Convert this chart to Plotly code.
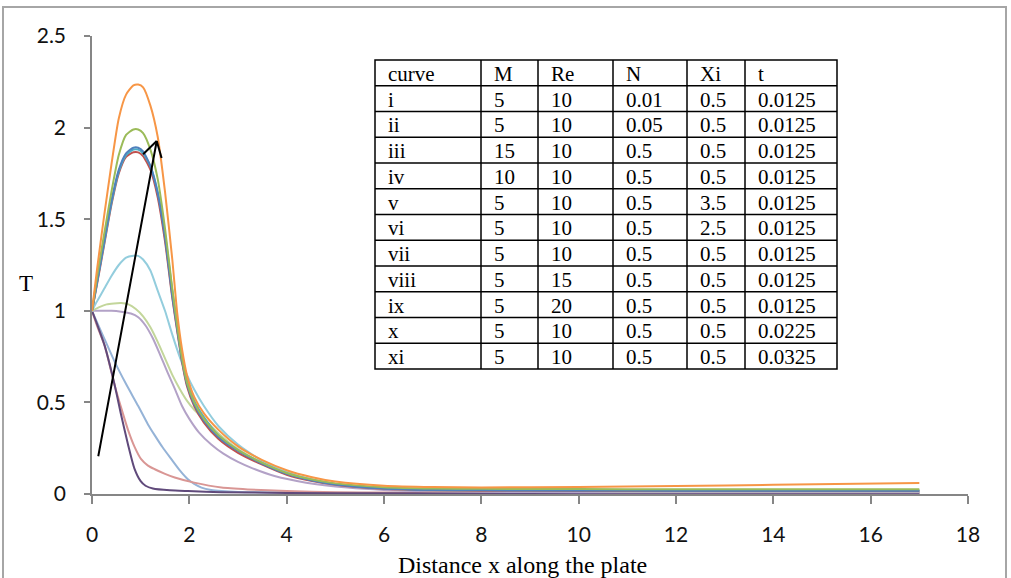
import plotly.graph_objects as go

# ---------------- data ----------------
x_orange = [0, 0.1, 0.25, 0.4, 0.55, 0.7, 0.85, 0.95, 1.05, 1.2, 1.35, 1.5, 1.65, 1.75, 1.85, 1.95, 2.1, 2.3, 2.6, 3.0, 3.5, 4.0, 4.5, 5, 6, 7, 8, 10, 12, 14, 17]
y_orange = [1.0, 1.22, 1.52, 1.80, 2.05, 2.18, 2.23, 2.235, 2.22, 2.12, 1.95, 1.65, 1.28, 0.99, 0.79, 0.65, 0.53, 0.44, 0.35, 0.26, 0.185, 0.13, 0.093, 0.068, 0.045, 0.038, 0.036, 0.038, 0.043, 0.05, 0.06]

x_green = [0, 0.1, 0.25, 0.4, 0.55, 0.7, 0.85, 0.95, 1.05, 1.2, 1.35, 1.5, 1.65, 1.75, 1.85, 1.95, 2.1, 2.3, 2.6, 3.0, 3.5, 4.0, 4.5, 5, 6, 7, 8, 10, 12, 14, 17]
y_green = [1.0, 1.18, 1.42, 1.65, 1.85, 1.96, 1.99, 1.99, 1.97, 1.88, 1.72, 1.45, 1.12, 0.92, 0.74, 0.61, 0.50, 0.41, 0.32, 0.24, 0.17, 0.115, 0.08, 0.058, 0.037, 0.03, 0.028, 0.027, 0.026, 0.026, 0.026]

x_blue = [0, 0.1, 0.25, 0.4, 0.55, 0.7, 0.85, 0.95, 1.05, 1.2, 1.35, 1.5, 1.65, 1.75, 1.85, 1.95, 2.1, 2.3, 2.6, 3.0, 3.5, 4.0, 4.5, 5, 6, 7, 8, 10, 12, 14, 17]
y_blue = [1.0, 1.15, 1.38, 1.60, 1.77, 1.86, 1.89, 1.89, 1.87, 1.79, 1.64, 1.40, 1.08, 0.90, 0.73, 0.60, 0.49, 0.40, 0.31, 0.235, 0.165, 0.11, 0.075, 0.052, 0.03, 0.022, 0.02, 0.019, 0.018, 0.018, 0.018]

x_red = [0, 0.1, 0.25, 0.4, 0.55, 0.7, 0.85, 0.95, 1.05, 1.2, 1.35, 1.5, 1.65, 1.75, 1.85, 1.95, 2.1, 2.3, 2.6, 3.0, 3.5, 4.0, 4.5, 5, 6, 7, 8, 10, 12, 14, 17]
y_red = [1.0, 1.14, 1.36, 1.58, 1.75, 1.84, 1.865, 1.865, 1.845, 1.77, 1.62, 1.38, 1.07, 0.89, 0.72, 0.59, 0.48, 0.39, 0.30, 0.225, 0.16, 0.105, 0.072, 0.05, 0.028, 0.02, 0.018, 0.017, 0.016, 0.016, 0.016]

x_teal = [0, 0.1, 0.25, 0.4, 0.55, 0.7, 0.85, 0.95, 1.05, 1.2, 1.35, 1.5, 1.65, 1.75, 1.85, 1.95, 2.1, 2.3, 2.6, 3.0, 3.5, 4.0, 4.5, 5, 6, 7, 8, 10, 12, 14, 17]
y_teal = [1.0, 1.15, 1.37, 1.59, 1.76, 1.85, 1.88, 1.88, 1.86, 1.79, 1.65, 1.42, 1.11, 0.93, 0.76, 0.63, 0.51, 0.42, 0.32, 0.24, 0.168, 0.112, 0.077, 0.054, 0.032, 0.024, 0.022, 0.021, 0.02, 0.02, 0.02]

x_aqua = [0, 0.1, 0.25, 0.4, 0.55, 0.7, 0.85, 0.95, 1.05, 1.2, 1.35, 1.5, 1.65, 1.8, 1.95, 2.1, 2.3, 2.6, 3.0, 3.5, 4.0, 4.5, 5, 6, 7, 8, 10, 12, 14, 17]
y_aqua = [1.0, 1.05, 1.12, 1.19, 1.25, 1.29, 1.30, 1.30, 1.28, 1.22, 1.11, 1.00, 0.87, 0.75, 0.65, 0.57, 0.48, 0.37, 0.27, 0.18, 0.12, 0.08, 0.055, 0.03, 0.022, 0.02, 0.018, 0.017, 0.017, 0.017]

x_lgreen = [0, 0.15, 0.3, 0.45, 0.6, 0.75, 0.9, 1.05, 1.2, 1.35, 1.5, 1.65, 1.8, 1.95, 2.1, 2.3, 2.6, 3.0, 3.5, 4.0, 4.5, 5, 6, 7, 8, 10, 12, 14, 17]
y_lgreen = [1.0, 1.02, 1.035, 1.04, 1.042, 1.035, 1.01, 0.97, 0.91, 0.83, 0.74, 0.65, 0.575, 0.51, 0.46, 0.41, 0.33, 0.245, 0.17, 0.115, 0.08, 0.055, 0.03, 0.02, 0.018, 0.016, 0.015, 0.015, 0.015]

x_lpurple = [0, 0.2, 0.4, 0.6, 0.8, 0.95, 1.1, 1.25, 1.4, 1.55, 1.7, 1.85, 2.0, 2.2, 2.45, 2.7, 3.0, 3.3, 3.75, 4.4, 5.25, 6, 7, 8, 10, 12, 14, 17]
y_lpurple = [1.0, 1.0, 1.0, 0.995, 0.985, 0.965, 0.92, 0.85, 0.76, 0.665, 0.575, 0.48, 0.41, 0.335, 0.27, 0.22, 0.175, 0.14, 0.098, 0.062, 0.035, 0.022, 0.015, 0.012, 0.01, 0.01, 0.01, 0.01]

x_lblue = [0, 0.25, 0.47, 0.7, 0.95, 1.15, 1.29, 1.45, 1.63, 1.8, 1.97, 2.1, 2.25, 2.45, 2.66, 3, 4, 6, 10, 17]
y_lblue = [1.0, 0.85, 0.72, 0.60, 0.48, 0.38, 0.32, 0.255, 0.19, 0.13, 0.08, 0.055, 0.035, 0.022, 0.016, 0.011, 0.008, 0.006, 0.005, 0.005]

x_lred = [0, 0.1, 0.26, 0.47, 0.6, 0.74, 0.87, 1.01, 1.15, 1.29, 1.5, 1.7, 2.1, 2.66, 3.2, 4, 5, 6, 8, 12, 17]
y_lred = [1.0, 0.92, 0.81, 0.59, 0.47, 0.35, 0.26, 0.19, 0.155, 0.135, 0.11, 0.09, 0.062, 0.035, 0.025, 0.016, 0.01, 0.008, 0.006, 0.005, 0.005]

x_dpurple = [0, 0.1, 0.26, 0.47, 0.6, 0.74, 0.87, 1.0, 1.1, 1.25, 1.6, 1.97, 2.66, 4, 6, 10, 17]
y_dpurple = [1.0, 0.93, 0.81, 0.59, 0.43, 0.27, 0.14, 0.07, 0.045, 0.03, 0.02, 0.016, 0.01, 0.006, 0.004, 0.003, 0.003]

series = [
    (x_lblue, y_lblue, "#95B3D7"),
    (x_lred, y_lred, "#D99694"),
    (x_dpurple, y_dpurple, "#604A7B"),
    (x_lpurple, y_lpurple, "#B3A2C7"),
    (x_lgreen, y_lgreen, "#C3D69B"),
    (x_aqua, y_aqua, "#93CDDD"),
    (x_red, y_red, "#C0504D"),
    (x_teal, y_teal, "#4BACC6"),
    (x_blue, y_blue, "#4F81BD"),
    (x_green, y_green, "#9BBB59"),
    (x_orange, y_orange, "#F79646"),
]

# table contents
table_header = ["curve", "M", "Re", "N", "Xi", "t"]
col_curve = ["i", "ii", "iii", "iv", "v", "vi", "vii", "viii", "ix", "x", "xi"]
col_M = ["5", "5", "15", "10", "5", "5", "5", "5", "5", "5", "5"]
col_Re = ["10", "10", "10", "10", "10", "10", "10", "15", "20", "10", "10"]
col_N = ["0.01", "0.05", "0.5", "0.5", "0.5", "0.5", "0.5", "0.5", "0.5", "0.5", "0.5"]
col_Xi = ["0.5", "0.5", "0.5", "0.5", "3.5", "2.5", "0.5", "0.5", "0.5", "0.5", "0.5"]
col_t = ["0.0125"] * 9 + ["0.0225", "0.0325"]

x_ticks = [0, 2, 4, 6, 8, 10, 12, 14, 16, 18]
y_ticks = [0, 0.5, 1, 1.5, 2, 2.5]

# ---------------- layout geometry ----------------
W, H = 1011, 578
ML, MR, MT, MB = 92, 43, 36, 84
PW, PH = W - ML - MR, H - MT - MB


def pxx(px):
    return (px - ML) / PW


def pxy(py):
    return (H - MB - py) / PH


fig = go.Figure()
for xs, ys, c in series:
    fig.add_trace(go.Scatter(x=xs, y=ys, mode="lines",
                             line=dict(color=c, width=2, shape="spline", smoothing=0.6),
                             hoverinfo="skip", showlegend=False))

shapes = []
annotations = []

# outer chart frame
shapes.append(dict(type="rect", xref="paper", yref="paper",
                   x0=pxx(3), x1=pxx(1006), y0=pxy(600), y1=pxy(7),
                   line=dict(color="#A6A6A6", width=2), fillcolor="rgba(0,0,0,0)", layer="below"))

# table
col_edges = [375, 481, 538, 613, 687, 745, 837]
row_top, row_bot = 60, 369
nrows = 1 + len(col_curve)
rh = (row_bot - row_top) / nrows
shapes.append(dict(type="rect", xref="paper", yref="paper",
                   x0=pxx(col_edges[0]), x1=pxx(col_edges[-1]), y0=pxy(row_bot), y1=pxy(row_top),
                   line=dict(color="black", width=1.5), fillcolor="white", layer="above"))
for ce in col_edges[1:-1]:
    shapes.append(dict(type="line", xref="paper", yref="paper",
                       x0=pxx(ce), x1=pxx(ce), y0=pxy(row_bot), y1=pxy(row_top),
                       line=dict(color="black", width=1.5)))
for r in range(1, nrows):
    yy = row_top + r * rh
    shapes.append(dict(type="line", xref="paper", yref="paper",
                       x0=pxx(col_edges[0]), x1=pxx(col_edges[-1]), y0=pxy(yy), y1=pxy(yy),
                       line=dict(color="black", width=1.5)))

rows = [table_header] + [list(r) for r in zip(col_curve, col_M, col_Re, col_N, col_Xi, col_t)]
for ri, row in enumerate(rows):
    yc = row_top + (ri + 0.5) * rh
    for ci, txt in enumerate(row):
        annotations.append(dict(text=txt, xref="paper", yref="paper",
                                x=pxx(col_edges[ci] + 11), y=pxy(yc + 1),
                                xanchor="left", yanchor="middle", showarrow=False,
                                font=dict(family="Liberation Serif", size=21, color="black")))

# arrow
fig.add_annotation(x=1.33, y=1.927, ax=0.123, ay=0.198, xref="x", yref="y", axref="x", ayref="y",
                   showarrow=True, arrowhead=0, arrowwidth=2, arrowcolor="black", text="")
shapes.append(dict(type="line", xref="x", yref="y", x0=1.33, y0=1.927, x1=1.05, y1=1.855,
                   line=dict(color="black", width=2)))
shapes.append(dict(type="line", xref="x", yref="y", x0=1.33, y0=1.927, x1=1.43, y1=1.834,
                   line=dict(color="black", width=2)))

# axis titles
annotations.append(dict(text="T", xref="paper", yref="paper", x=pxx(26), y=pxy(283),
                        xanchor="center", yanchor="middle", showarrow=False,
                        font=dict(family="Liberation Serif", size=23, color="black")))
annotations.append(dict(text="Distance x along the plate", xref="paper", yref="paper",
                        x=pxx(522), y=pxy(565), xanchor="center", yanchor="middle", showarrow=False,
                        font=dict(family="Liberation Serif", size=24, color="black")))

fig.update_layout(
    width=W, height=H,
    margin=dict(l=ML, r=MR, t=MT, b=MB),
    paper_bgcolor="white", plot_bgcolor="white",
    showlegend=False,
    shapes=shapes, annotations=fig.layout.annotations + tuple(annotations),
    xaxis=dict(range=[0, 18], tickvals=x_ticks, ticktext=[str(v) for v in x_ticks],
               showgrid=False, zeroline=False, showline=True, linecolor="#868686", linewidth=1.5,
               ticks="outside", ticklen=8, tickcolor="#868686", tickwidth=1.5,
               ticklabelstandoff=13,
               tickfont=dict(family="Lato", size=21, color="#111111")),
    yaxis=dict(range=[0, 2.5], tickvals=y_ticks, ticktext=["0", "0.5", "1", "1.5", "2", "2.5"],
               showgrid=False, zeroline=False, showline=True, linecolor="#868686", linewidth=1.5,
               ticks="outside", ticklen=6, tickcolor="#868686", tickwidth=1.5,
               ticklabelstandoff=14,
               tickfont=dict(family="Lato", size=21, color="#111111")),
)

fig.write_html("out.html")
